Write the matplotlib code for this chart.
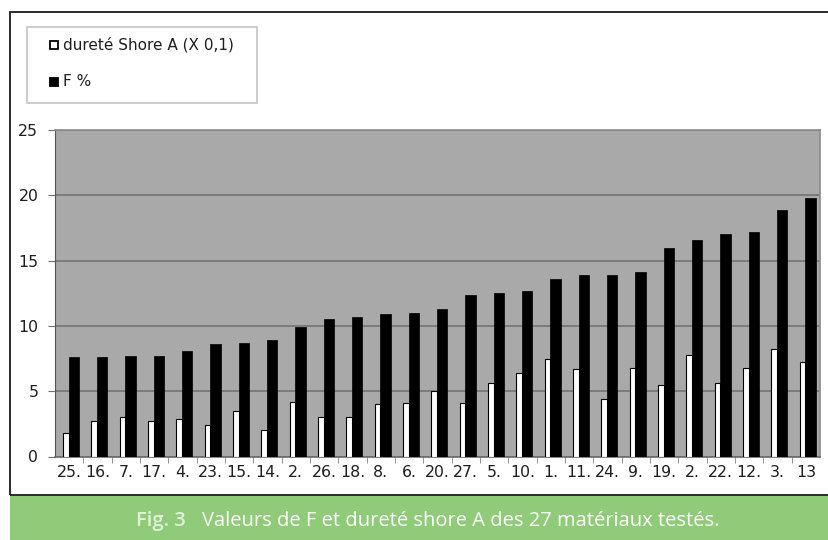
import matplotlib
matplotlib.use("Agg")
import matplotlib.pyplot as plt
from matplotlib.patches import Rectangle
import numpy as np

# Materials, ordered by increasing F
materials = ["25.", "16.", "7.", "17.", "4.", "23.", "15.", "14.", "2.", "26.",
             "18.", "8.", "6.", "20.", "27.", "5.", "10.", "1.", "11.", "24.",
             "9.", "19.", "2.", "22.", "12.", "3.", "13"]
shore_a = [1.8, 2.7, 3.0, 2.7, 2.9, 2.4, 3.5, 2.0, 4.2, 3.0,
           3.0, 4.0, 4.1, 5.0, 4.1, 5.6, 6.4, 7.5, 6.7, 4.4,
           6.8, 5.5, 7.8, 5.6, 6.8, 8.2, 7.2]
f_pct = [7.6, 7.6, 7.7, 7.7, 8.1, 8.6, 8.7, 8.9, 9.9, 10.5,
         10.7, 10.9, 11.0, 11.3, 12.4, 12.5, 12.7, 13.6, 13.9, 13.9,
         14.1, 16.0, 16.6, 17.0, 17.2, 18.9, 19.8]
y_ticks = [0, 5, 10, 15, 20, 25]

legend_labels = ["dureté Shore A (X 0,1)", "F %"]
caption_fig = "Fig. 3"
caption_text = "Valeurs de F et dureté shore A des 27 matériaux testés."

W, H = 829, 540
fig = plt.figure(figsize=(W / 100, H / 100), dpi=100)
fig.patch.set_facecolor("white")


def fx(px):
    return px / W


def fy(py):
    return 1 - py / H


# Plot area
left, right, top, bottom = 55, 820, 130, 456.5
ax = fig.add_axes([fx(left), fy(bottom), fx(right - left), (bottom - top) / H])
ax.set_facecolor("#a9a9a9")

x = np.arange(len(materials))
ax.bar(x - 0.115, shore_a, width=0.2, color="white", edgecolor="black",
       linewidth=0.8, zorder=3)
ax.bar(x + 0.165, f_pct, width=0.37, color="black", edgecolor="black",
       linewidth=0.5, zorder=3)

ax.set_xlim(-0.5, len(materials) - 0.5)
ax.set_ylim(0, 25)
ax.set_yticks(y_ticks)
ax.set_yticklabels([str(v) for v in y_ticks], fontsize=11.3, color="#1e1e1e")
ax.yaxis.grid(True, color="#6f6f6f", linewidth=1.1, zorder=1)
ax.set_axisbelow(True)
ax.tick_params(axis="y", length=5, color="#6f6f6f", pad=7)

ax.set_xticks(x)
ax.set_xticklabels(materials, fontsize=11.3, color="#1e1e1e")
ax.tick_params(axis="x", which="major", length=0, pad=6)
ax.set_xticks(np.arange(0.5, len(materials) - 0.5, 1.0), minor=True)
ax.tick_params(axis="x", which="minor", length=4, color="#808080", direction="out")

for side in ["top", "right"]:
    ax.spines[side].set_color("#8a8a8a")
    ax.spines[side].set_linewidth(1.2)
ax.spines["left"].set_color("#555555")
ax.spines["bottom"].set_color("#6a6a6a")
ax.spines["bottom"].set_linewidth(1.2)

# Legend box
fig.add_artist(Rectangle((fx(27), fy(103)), fx(257 - 27), (103 - 27) / H,
                         transform=fig.transFigure, facecolor="white",
                         edgecolor="#c4c4c4", linewidth=1.2))
entries = [(45, "white"), (82, "black")]
for (ly, fc), lab in zip(entries, legend_labels):
    fig.add_artist(Rectangle((fx(50), fy(ly + 4)), fx(8), 8 / H,
                             transform=fig.transFigure, facecolor=fc,
                             edgecolor="black", linewidth=1.3))
    fig.text(fx(63), fy(ly), lab, fontsize=11, color="#1e1e1e",
             va="center", ha="left")

# Outer frame
fig.add_artist(Rectangle((fx(10), fy(495)), fx(W + 5 - 10), (495 - 12) / H,
                         transform=fig.transFigure, facecolor="none",
                         edgecolor="#1a1a1a", linewidth=1.3))

# Caption band
fig.add_artist(Rectangle((fx(10), 0), fx(W - 10), (H - 496) / H,
                         transform=fig.transFigure, facecolor="#8fcb78",
                         edgecolor="none"))
fig.text(fx(186), fy(521), caption_fig, fontsize=14.5, color="#e2f2da",
         family="Open Sans", fontweight="semibold", va="center", ha="right")
fig.text(fx(202), fy(521), caption_text, fontsize=14.5, color="white",
         family="Open Sans", va="center", ha="left")

fig.savefig("out.png", dpi=100)
